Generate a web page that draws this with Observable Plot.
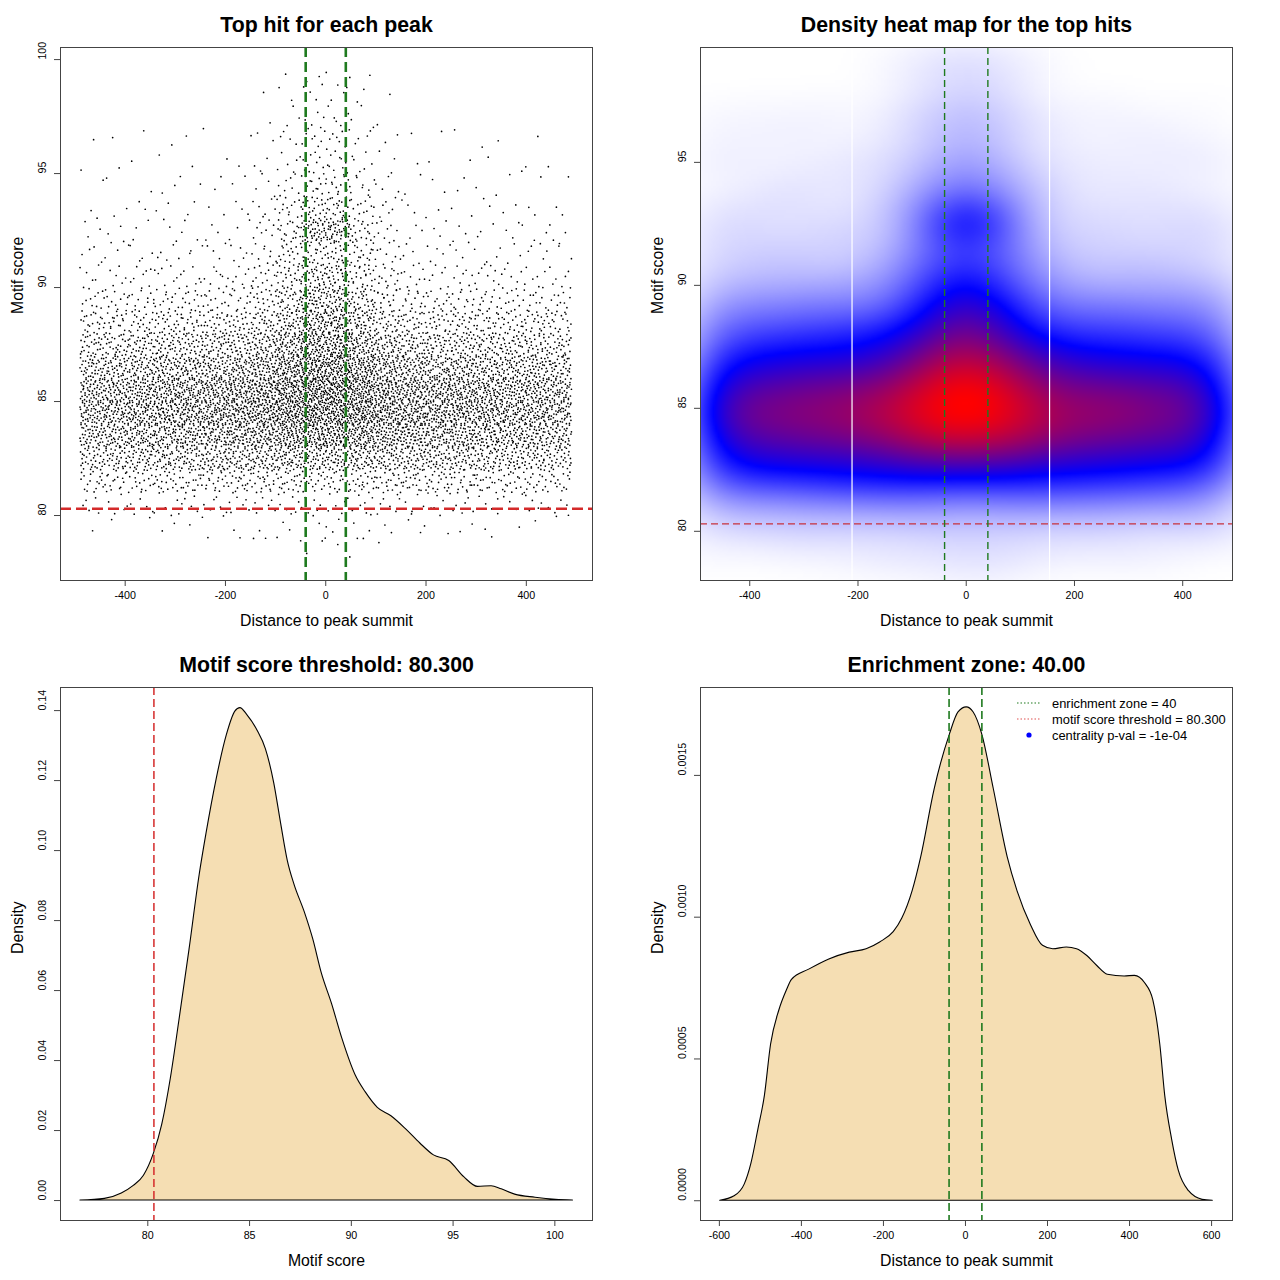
<!DOCTYPE html>
<html><head><meta charset="utf-8">
<script src="https://cdn.jsdelivr.net/npm/d3@7"></script>
<script src="https://cdn.jsdelivr.net/npm/@observablehq/plot@0.6"></script>
<style>
body{margin:0;background:#fff;font-family:"Liberation Sans",Arial,sans-serif}
#grid{display:grid;grid-template-columns:640px 640px;grid-template-rows:640px 640px;width:1280px;height:1280px}
#grid svg{display:block}
</style></head><body><div id="grid"></div>
<script>
// ---------------- data ----------------
const threshold = 80.3;          // motif score threshold
const zone = 40;                 // enrichment zone half-width
const xMin = -490, xMax = 490;   // distance range of the top hits
const scoreMin = 78.02, scoreMax = 99.66;

// estimated number of top hits in each 49-bp distance column (left to right)
const columnCounts = [338, 347, 369, 388, 397, 406, 432, 496, 641, 775, 775, 631, 486, 420, 401, 401, 383, 361, 357, 324];
// which score profile each column follows
const columnProfile = ["outer","outer","outer","outer","outer","outer","outer","shoulder","inner","core",
                       "core","inner","shoulder","outer","outer","outer","outer","outer","outer","outer"];
// score rows (lower edge of each 1-unit row)
const scoreRows = [78,79,80,81,82,83,84,85,86,87,88,89,90,91,92,93,94,95,96,97,98,99];
// share of a column's hits in each score row
const profileOuter    = [0.001,0.004,0.014,0.05,0.10,0.14,0.17,0.162,0.125,0.09,0.058,0.033,0.018,0.011,0.008,0.006,0.004,0.003,0.0015,0.0008,0.0004,0];
const profileShoulder = [0.0013,0.004,0.0125,0.044,0.0895,0.129,0.1575,0.152,0.121,0.09,0.062,0.04,0.026,0.019,0.016,0.012,0.0075,0.0055,0.0036,0.0024,0.0016,0.0008];
const profileInner    = [0.0016,0.004,0.0104,0.035,0.075,0.113,0.14,0.138,0.115,0.09,0.068,0.049,0.037,0.028,0.03,0.02,0.012,0.009,0.0066,0.0045,0.0032,0.0018];
const profileCore     = [0.002,0.004,0.008,0.025,0.058,0.095,0.12,0.122,0.108,0.09,0.075,0.06,0.045,0.032,0.06,0.032,0.018,0.013,0.01,0.007,0.005,0.003];

// white seams visible in the heat map image
const heatSeams = [-211, 154];

// density of motif scores
const scoreX = [76.69,77.89,78.72,79.31,79.81,80.30,80.71,81.13,81.55,82.05,82.55,82.88,83.38,83.88,84.30,84.55,84.88,85.38,85.80,86.21,86.55,86.88,87.21,87.71,88.13,88.55,89.05,89.55,90.21,90.71,91.30,91.97,92.72,93.39,94.06,94.81,95.56,96.22,96.89,97.39,98.05,99.05,100.05,100.89];
const scoreD = [0,0.00049,0.00204,0.0042,0.0071,0.0134,0.0217,0.0348,0.0513,0.0717,0.0931,0.1047,0.1203,0.1329,0.1397,0.1407,0.1388,0.1344,0.129,0.1193,0.1077,0.097,0.0902,0.0824,0.0746,0.0649,0.0562,0.0464,0.0358,0.0309,0.0265,0.0241,0.0202,0.0163,0.0129,0.0113,0.0066,0.0039,0.0041,0.0032,0.0017,0.0008,0.0002,0];

// density of distances to peak summit
const distX = [-598,-563,-538,-522,-505,-489,-474,-454,-435,-423,-381,-332,-282,-241,-208,-175,-154,-129,-108,-75,-38,-17,3,20,41,69,103,127,160,189,214,247,272,297,322,347,388,413,438,458,475,487,504,520,545,578,603];
const distD = [0,0.0000156,0.0000577,0.00013,0.00025,0.00037,0.00055,0.00067,0.000743,0.000779,0.000815,0.000851,0.000875,0.000887,0.000911,0.000947,0.000995,0.001091,0.001211,0.001452,0.001644,0.001722,0.00174,0.001722,0.001644,0.001452,0.001211,0.001091,0.000971,0.000899,0.000887,0.000893,0.000887,0.000863,0.000827,0.000797,0.000791,0.000793,0.000767,0.000707,0.00055,0.00037,0.000214,0.000106,0.0000336,0.0000036,0];

// titles, labels, ticks
const titles = ["Top hit for each peak","Density heat map for the top hits","Motif score threshold: 80.300","Enrichment zone: 40.00"];
const distLabel = "Distance to peak summit", scoreLabel = "Motif score", densLabel = "Density";
const distTicks = [-400,-200,0,200,400];
const distTicksWide = [-600,-400,-200,0,200,400,600];
const scoreTicks = [80,85,90,95,100];
const heatScoreTicks = [80,85,90,95];
const densTicks = [0,0.02,0.04,0.06,0.08,0.10,0.12,0.14];
const distDensTicks = [0,0.0005,0.0010,0.0015];
const legendItems = ["enrichment zone = 40","motif score threshold = 80.300","centrality p-val = -1e-04"];

// ---------------- build tables ----------------
const profiles = {outer: profileOuter, shoulder: profileShoulder, inner: profileInner, core: profileCore};
function halton(i, b){ let f = 1, r = 0; while (i > 0){ f /= b; r += f * (i % b); i = Math.floor(i / b); } return r; }
const binWidth = (xMax - xMin) / columnCounts.length;
const hits = [];
let k = 1;
columnCounts.forEach((n, c) => {
  const prof = profiles[columnProfile[c]];
  const x0 = xMin + c * binWidth;
  prof.forEach((p, r) => {
    const m = Math.round(n * p);
    const lo = Math.max(scoreRows[r], scoreMin), hi = Math.min(scoreRows[r] + 1, scoreMax);
    for (let j = 0; j < m; j++, k++) {
      hits.push({x: Math.round(x0 + halton(k, 2) * binWidth), y: lo + halton(k, 3) * (hi - lo)});
    }
  });
});
const scoreDens = scoreX.map((x, i) => ({x, y: scoreD[i]}));
const distDens = distX.map((x, i) => ({x, y: distD[i]}));

// 2-D density of the hits for the heat map
const gx0 = -700, gdx = 5, GW = 280, gy0 = 75.5, gdy = 0.1, GH = 270;
const grid = new Float64Array(GW * GH);
for (const h of hits) {
  const i = Math.floor((h.x - gx0) / gdx), j = Math.floor((h.y - gy0) / gdy);
  if (i >= 0 && i < GW && j >= 0 && j < GH) grid[j * GW + i] += 1;
}
d3.blur2({data: grid, width: GW, height: GH}, 9, 6);
const hx0 = -491, hx1 = 492, hy0 = 78.0, hy1 = 99.67;
const ci0 = Math.floor((hx0 - gx0) / gdx), ci1 = Math.ceil((hx1 - gx0) / gdx);
const rj0 = Math.floor((hy0 - gy0) / gdy), rj1 = Math.ceil((hy1 - gy0) / gdy);
const RW = ci1 - ci0, RH = rj1 - rj0;
let gmax = 0;
for (let j = rj0; j < rj1; j++) for (let i = ci0; i < ci1; i++) gmax = Math.max(gmax, grid[j * GW + i]);
const heat = [];
for (let j = rj1 - 1; j >= rj0; j--) for (let i = ci0; i < ci1; i++) heat.push(grid[j * GW + i] / gmax);

// ---------------- drawing helpers ----------------
const FONT = "Liberation Sans, Arial, Helvetica, sans-serif";
const RED = "#d42a2a", GREEN = "#1f7a1f", FRAME = "#444";
function decor({title, xLabel, yLabel, xTicks, yTicks, yFmt}) {
  return [
    Plot.frame({stroke: FRAME, strokeWidth: 1}),
    Plot.axisX({ticks: xTicks, tickSize: 6, tickPadding: 5, fontSize: 10.7, label: null, stroke: FRAME, tickFormat: d => String(d)}),
    Plot.axisY({ticks: yTicks, tickSize: 6, label: null, stroke: FRAME, tickFormat: () => ""}),
    Plot.text(yTicks, {y: d => d, text: yFmt, frameAnchor: "left", dx: -18, rotate: -90, fontSize: 10.7, fill: "#000", lineAnchor: "middle"}),
    Plot.text([yLabel], {frameAnchor: "left", dx: -43, rotate: -90, fontSize: 15.8, fill: "#000", lineAnchor: "middle"}),
    Plot.text([xLabel], {frameAnchor: "bottom", dy: 40, fontSize: 15.8, fill: "#000", lineAnchor: "middle"}),
    Plot.text([title], {frameAnchor: "top", dy: -22, fontSize: 21.3, fontWeight: "bold", fill: "#000", lineAnchor: "middle"})
  ];
}
const base = {width: 640, height: 640, marginLeft: 60, marginRight: 48, marginTop: 47, marginBottom: 60,
  style: {fontFamily: FONT, fontSize: "10px", background: "white", overflow: "visible"}};

// ---- top-left: scatter ----
const p1 = Plot.plot({...base,
  x: {domain: [-529, 532]}, y: {domain: [77.15, 100.53]},
  marks: [
    Plot.dot(hits, {x: "x", y: "y", r: 0.85, fill: "#000", stroke: null}),
    Plot.ruleY([threshold], {stroke: RED, strokeWidth: 2.4, strokeDasharray: "11,5"}),
    Plot.ruleX([-zone, zone], {stroke: GREEN, strokeWidth: 2.6, strokeDasharray: "10,5"}),
    ...decor({title: titles[0], xLabel: distLabel, yLabel: scoreLabel, xTicks: distTicks, yTicks: scoreTicks, yFmt: d => String(d)})
  ]});

// ---- top-right: heat map ----
const p2 = Plot.plot({...base,
  x: {domain: [hx0, hx1]}, y: {domain: [hy0, hy1]},
  color: {type: "pow", exponent: 0.8, domain: [0, Math.pow(0.5, 1 / 0.8), 1], range: ["#ffffff", "#0000ff", "#ff0000"], interpolate: "rgb"},
  marks: [
    Plot.raster(heat, {width: RW, height: RH, x1: gx0 + ci0 * gdx, x2: gx0 + ci1 * gdx, y1: gy0 + rj1 * gdy, y2: gy0 + rj0 * gdy, fill: d => d, clip: true, imageRendering: "auto"}),
    Plot.ruleX(heatSeams, {stroke: "#fff", strokeWidth: 1.2}),
    Plot.ruleY([threshold], {stroke: "#c8323c", strokeWidth: 1.3, strokeDasharray: "7,4"}),
    Plot.ruleX([-zone, zone], {stroke: GREEN, strokeWidth: 1.4, strokeDasharray: "7,4"}),
    ...decor({title: titles[1], xLabel: distLabel, yLabel: scoreLabel, xTicks: distTicks, yTicks: heatScoreTicks, yFmt: d => String(d)})
  ]});

// ---- bottom-left: score density ----
const p3 = Plot.plot({...base,
  x: {domain: [75.71, 101.85]}, y: {domain: [-0.0057, 0.1466]},
  marks: [
    Plot.areaY(scoreDens, {x: "x", y: "y", fill: "#f5deb3", stroke: "#000", strokeWidth: 1.1, curve: "monotone-x"}),
    Plot.ruleX([threshold], {stroke: RED, strokeWidth: 1.5, strokeDasharray: "8,4"}),
    ...decor({title: titles[2], xLabel: scoreLabel, yLabel: densLabel, xTicks: [80,85,90,95,100], yTicks: densTicks, yFmt: d => d.toFixed(2)})
  ]});

// ---- bottom-right: distance density ----
const p4 = Plot.plot({...base,
  x: {domain: [-646, 651]}, y: {domain: [-0.0000697, 0.00181]},
  marks: [
    Plot.areaY(distDens, {x: "x", y: "y", fill: "#f5deb3", stroke: "#000", strokeWidth: 1.1, curve: "monotone-x"}),
    Plot.ruleX([-zone, zone], {stroke: GREEN, strokeWidth: 1.6, strokeDasharray: "8,4"}),
    ...decor({title: titles[3], xLabel: distLabel, yLabel: densLabel, xTicks: distTicksWide, yTicks: distDensTicks, yFmt: d => d.toFixed(4)})
  ]});

// legend (top-right inside the frame)
{
  const g = d3.select(p4).append("g").attr("font-family", FONT).attr("font-size", 12.9).attr("text-anchor", "start");
  const rows = [{kind: "line", color: GREEN}, {kind: "line", color: "#e05050"}, {kind: "dot", color: "#0000ff"}];
  rows.forEach((r, i) => {
    const y = 63 + i * 16;
    if (r.kind === "line") g.append("line").attr("x1", 377).attr("x2", 401).attr("y1", y).attr("y2", y)
        .attr("stroke", r.color).attr("stroke-width", 1.2).attr("stroke-dasharray", "1.5,2");
    else g.append("circle").attr("cx", 389).attr("cy", y).attr("r", 2.6).attr("fill", r.color);
    g.append("text").attr("x", 412).attr("y", y).attr("dy", "0.35em").attr("fill", "#000").attr("text-anchor", "start").text(legendItems[i]);
  });
}

const gridEl = document.getElementById("grid");
[p1, p2, p3, p4].forEach(p => gridEl.appendChild(p));
</script></body></html>
